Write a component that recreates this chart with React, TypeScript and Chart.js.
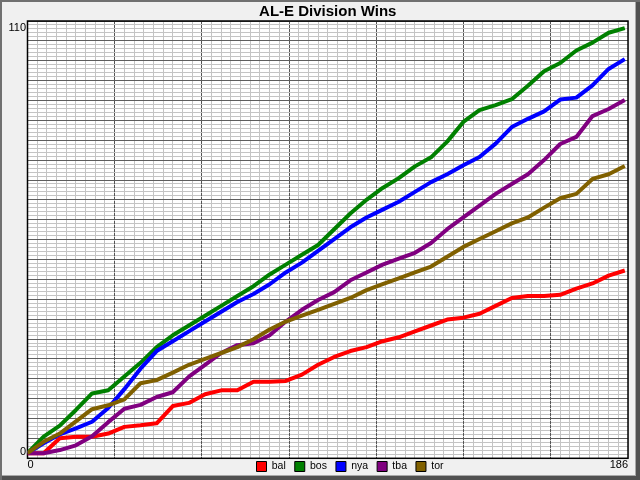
import { useEffect, useRef } from "react";
import { Chart, registerables } from "chart.js";

Chart.register(...registerables);

// day of season (x) and cumulative wins per team
const days = [0, 5, 10, 15, 20, 25, 30, 35, 40, 45, 50, 55, 60, 65, 70, 75, 80, 85, 90, 95, 100, 105, 110, 115, 120, 125, 130, 135, 140, 145, 150, 155, 160, 165, 170, 175, 180, 185];

const bal = [0, 0, 3.8, 4.2, 4.2, 5, 6.7, 7.1, 7.6, 12, 12.8, 15, 16, 16, 18.2, 18.2, 18.4, 20, 22.5, 24.5, 26, 27, 28.5, 29.5, 31, 32.5, 34, 34.5, 35.5, 37.5, 39.5, 40, 40, 40.3, 41.9, 43.2, 45.2, 46.5];
const bos = [0, 4.2, 7, 11, 15.2, 16, 19.5, 23, 27, 30, 32.5, 35, 37.5, 40, 42.5, 45.5, 48, 50.5, 53, 57, 61, 64.5, 67.5, 70, 73, 75.3, 79.3, 84.3, 87.3, 88.6, 90.1, 93.5, 97.2, 99.3, 102.5, 104.5, 107, 108.2];
const nya = [0, 2.5, 4.8, 6.3, 8, 11.5, 16.3, 21.5, 26, 28.5, 31, 33.5, 36, 38.5, 40.5, 43, 46, 48.5, 51.5, 54.5, 57.5, 60, 62, 64, 66.5, 69, 71, 73.3, 75.4, 78.8, 83, 85.1, 87, 90, 90.5, 93.6, 97.8, 100.3];
const tba = [0, 0, 0.8, 2, 4.3, 7.9, 11.3, 12.3, 14.3, 15.5, 19.5, 22.5, 25.5, 27.5, 28, 30, 33.5, 36.5, 39, 41, 44, 46, 48, 49.5, 51, 53.5, 57, 60, 63, 66, 68.5, 71, 74.6, 78.7, 80.5, 85.8, 87.6, 89.9];
const tor = [0, 2.9, 5, 8.1, 11.2, 12.2, 13.7, 17.8, 18.6, 20.5, 22.5, 24, 25.5, 27, 29, 31.5, 33.5, 35, 36.5, 38, 39.5, 41.5, 43, 44.5, 46, 47.5, 50, 52.5, 54.5, 56.5, 58.5, 60, 62.5, 64.9, 66, 69.8, 71, 73.1];

const teams = ["bal", "bos", "nya", "tba", "tor"];
const wins = [bal, bos, nya, tba, tor];
const colors = ["#ff0000", "#008000", "#0000ff", "#800080", "#806000"];

const xTickLabels = [0, 186];
const yTickLabels = [0, 110];

const X_MAX = 186;
const Y_MIN = -1.3;
const Y_MAX = 110;
const FONT = "'Liberation Sans', Arial, Helvetica, sans-serif";

const xMinor: number[] = [];
for (let d = 0; d <= X_MAX; d += 3) xMinor.push(d);
const xMajor = xMinor.filter((d) => d % 27 === 0);
const yMinor: number[] = [];
for (let i = 0; i <= 110; i++) yMinor.push(Y_MIN + (i * (Y_MAX - Y_MIN)) / 110);
const yMajor = yMinor.filter((_, i) => i % 5 === 0);

const framePlugin = {
  id: "frame",
  afterLayout(chart: any) {
    // legend sits on the row of the x labels, starting left of centre
    if (chart.legend) {
      chart.legend.left = 247.5;
      chart.legend.top = 452.25;
    }
  },
  beforeDraw(chart: any) {
    const { ctx, chartArea: a } = chart;
    ctx.save();
    ctx.fillStyle = "#ffffff";
    ctx.fillRect(a.left, a.top, a.right - a.left, a.bottom - a.top);
    ctx.restore();
  },
  beforeDatasetsDraw(chart: any) {
    const { ctx, chartArea: a } = chart;
    ctx.save();
    ctx.strokeStyle = "#000000";
    ctx.lineWidth = 1.5;
    ctx.strokeRect(a.left, a.top, a.right - a.left, a.bottom - a.top);
    ctx.restore();
  },
  afterDraw(chart: any) {
    const { ctx, chartArea: a, scales } = chart;
    ctx.save();
    ctx.font = `11px ${FONT}`;
    ctx.fillStyle = "#000000";
    ctx.textBaseline = "middle";
    ctx.textAlign = "right";
    yTickLabels.forEach((v) => {
      const py = Math.max(scales.y.getPixelForValue(v) - 1, a.top + 6.5);
      ctx.fillText(String(v), a.left - 1.5, py);
    });
    xTickLabels.forEach((v, i) => {
      ctx.textAlign = i === 0 ? "left" : "right";
      ctx.fillText(String(v), scales.x.getPixelForValue(v), a.bottom + 6.2);
    });
    ctx.restore();
  },
};

export default function App() {
  const canvasRef = useRef<HTMLCanvasElement>(null);

  useEffect(() => {
    if (!canvasRef.current) return;

    const chart = new Chart(canvasRef.current, {
      type: "line",
      data: {
        datasets: teams.map((team, i) => ({
          label: team,
          data: days.map((d, j) => ({ x: d, y: wins[i][j] })),
          borderColor: colors[i],
          backgroundColor: colors[i],
          borderWidth: 4,
          borderJoinStyle: "round",
          pointRadius: 0,
          tension: 0,
          fill: false,
          order: teams.length - 1 - i,
        })),
      },
      options: {
        responsive: false,
        animation: false,
        events: [],
        layout: { padding: { left: 27.5, right: 12, top: 0, bottom: 1.7 } },
        scales: {
          x: {
            type: "linear",
            min: 0,
            max: X_MAX,
            ticks: { display: false },
            grid: { color: "#c4c4c4", drawTicks: false, z: -2 },
            border: { display: false },
            afterBuildTicks: (s: any) => {
              s.ticks = xMinor.map((value) => ({ value }));
            },
          },
          x2: {
            type: "linear",
            position: "bottom",
            min: 0,
            max: X_MAX,
            ticks: { display: false },
            grid: { color: "#555555", drawTicks: false, z: -1 },
            border: { display: false, dash: [3, 1] },
            afterBuildTicks: (s: any) => {
              s.ticks = xMajor.map((value) => ({ value }));
            },
          },
          y: {
            type: "linear",
            min: Y_MIN,
            max: Y_MAX,
            ticks: { display: false },
            grid: { color: "#c4c4c4", drawTicks: false, z: -2 },
            border: { display: false },
            afterBuildTicks: (s: any) => {
              s.ticks = yMinor.map((value) => ({ value }));
            },
          },
          y2: {
            type: "linear",
            position: "left",
            min: Y_MIN,
            max: Y_MAX,
            ticks: { display: false },
            grid: { color: "#5e5e5e", drawTicks: false, z: -1 },
            border: { display: false },
            afterBuildTicks: (s: any) => {
              s.ticks = yMajor.map((value) => ({ value }));
            },
          },
        },
        plugins: {
          title: {
            display: true,
            text: "AL-E Division Wins",
            fullSize: false,
            color: "#000000",
            font: { family: FONT, size: 15, weight: "bold" },
            padding: { top: 3, bottom: 0 },
          },
          legend: {
            position: "bottom",
            align: "start",
            maxHeight: 20,
            labels: {
              boxWidth: 10,
              boxHeight: 10,
              padding: 9,
              color: "#000000",
              font: { family: FONT, size: 10.5 },
              sort: (a: any, b: any) => a.datasetIndex - b.datasetIndex,
              generateLabels: (c: any) =>
                Chart.defaults.plugins.legend.labels
                  .generateLabels(c)
                  .map((l: any) => ({ ...l, strokeStyle: "#000000", lineWidth: 1, lineDash: [] })),
            },
          },
          tooltip: { enabled: false },
        },
      },
      plugins: [framePlugin],
    } as any);

    return () => chart.destroy();
  }, []);

  return (
    <div
      style={{
        position: "fixed",
        left: 0,
        top: 0,
        width: 640,
        height: 480,
        background: "#f0f0f0",
        boxShadow:
          "inset 2px 2px 0 0 #707070, inset -4px -4px 0 0 #505050, inset -5px -5px 0 0 #a8a8a8",
      }}
    >
      <canvas ref={canvasRef} width={640} height={480} />
    </div>
  );
}
